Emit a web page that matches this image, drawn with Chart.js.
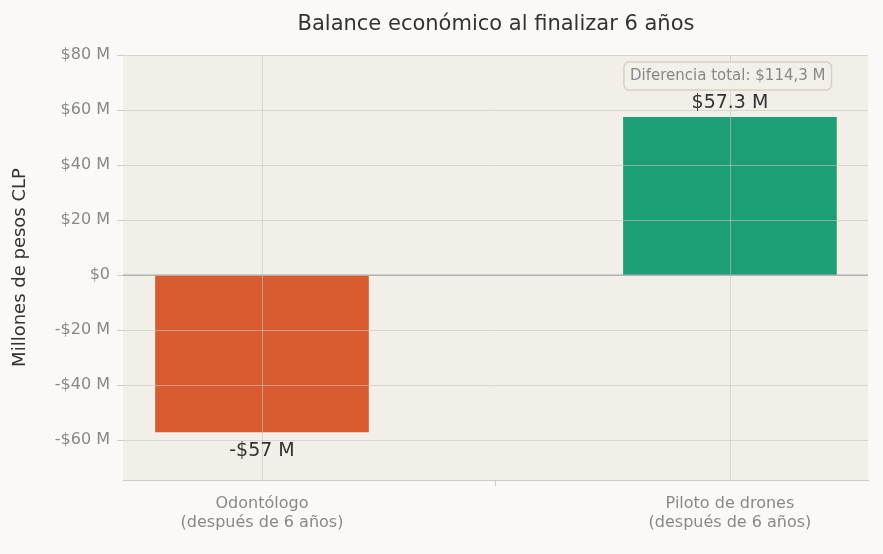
<!DOCTYPE html>
<html><head><meta charset="utf-8">
<script src="https://cdn.jsdelivr.net/npm/chart.js@4"></script>
<style>html,body{margin:0;background:#faf9f7}#wrap{width:883px;height:554px}</style>
</head><body><div id="wrap"><canvas id="c"></canvas></div>
<script>
const categories = [["Odontólogo","(después de 6 años)"],["Piloto de drones","(después de 6 años)"]];
const balances = [-57, 57.3];
const barLabels = ["-$57 M", "$57.3 M"];
const barColors = ["#d95b30", "#1c9e76"];
const yTicks = [-60, -40, -20, 0, 20, 40, 60, 80];
const chartTitle = "Balance económico al finalizar 6 años";
const noteText = "Diferencia total: $114,3 M";
const F = "DejaVu Sans";

const deco = {
  id: "deco",
  beforeDatasetsDraw(ch) {
    const {ctx, chartArea: a} = ch;
    ctx.save(); ctx.fillStyle = "#f2efe9";
    ctx.fillRect(a.left, a.top, a.right - a.left, a.bottom - a.top); ctx.restore();
  },
  afterDatasetsDraw(ch) {
    const {ctx, chartArea: a} = ch;
    const x = ch.scales.x, y = ch.scales.y;
    ctx.save();
    ctx.strokeStyle = "rgba(200,196,188,0.6)"; ctx.lineWidth = 1;
    yTicks.forEach(v => { const p = Math.round(y.getPixelForValue(v)) + 0.5;
      ctx.beginPath(); ctx.moveTo(a.left, p); ctx.lineTo(a.right, p); ctx.stroke(); });
    categories.forEach((c, i) => { const p = Math.round(x.getPixelForValue(i)) + 0.5;
      ctx.beginPath(); ctx.moveTo(p, a.top); ctx.lineTo(p, a.bottom); ctx.stroke(); });
    ctx.strokeStyle = "#aaa"; ctx.lineWidth = 1.2;
    ctx.beginPath(); ctx.moveTo(a.left, y.getPixelForValue(0)); ctx.lineTo(a.right, y.getPixelForValue(0)); ctx.stroke();
    ctx.restore();
  },
  afterDraw(ch) {
    const {ctx} = ch;
    ctx.save();
    ctx.fillStyle = "#333"; ctx.font = "21px " + F; ctx.textAlign = "center"; ctx.textBaseline = "middle";
    ctx.fillText(chartTitle, 496, 25);
    ctx.font = "19px " + F;
    ch.getDatasetMeta(0).data.forEach((b, i) => {
      const v = balances[i];
      ctx.textBaseline = v < 0 ? "top" : "bottom";
      ctx.fillText(barLabels[i], b.x, v < 0 ? b.y + 10 : b.y - 5);
    });
    ctx.font = "15px " + F;
    const w = ctx.measureText(noteText).width + 12;
    const bx = 624, by = 62;
    ctx.fillStyle = "rgba(242,239,233,0.9)"; ctx.strokeStyle = "#d6d1c6"; ctx.lineWidth = 1.5;
    ctx.beginPath(); ctx.roundRect(bx, by, w, 28, 5); ctx.fill(); ctx.stroke();
    ctx.fillStyle = "#888"; ctx.textAlign = "left"; ctx.textBaseline = "middle";
    ctx.fillText(noteText, bx + 6, by + 14);
    ctx.restore();
  }
};

new Chart(document.getElementById("c"), {
  type: "bar",
  data: { datasets: [{ data: balances.map((v, i) => ({ x: i, y: v })), backgroundColor: barColors, barThickness: 213 }] },
  options: {
    responsive: true, maintainAspectRatio: false, animation: false,
    layout: { padding: { top: 55, right: 15, left: 0, bottom: 0 } },
    plugins: { legend: { display: false }, tooltip: { enabled: false } },
    scales: {
      x: {
        type: "linear", min: -0.297, max: 1.295, offset: false,
        afterBuildTicks(s) { s.ticks = categories.map((c, i) => ({ value: i })); },
        grid: { display: true, drawOnChartArea: false, tickLength: 6, tickColor: "#ccc" },
        border: { color: "#ccc" },
        ticks: { color: "#888", font: { family: F, size: 16 }, padding: 8, callback: v => categories[v] },
        afterFit(s) { s.height = 74; }
      },
      y: {
        min: -74.5, max: 80,
        afterBuildTicks(s) { s.ticks = yTicks.map(v => ({ value: v })); },
        grid: { drawOnChartArea: false, tickLength: 6, tickColor: "#ccc" },
        border: { color: "#ccc" },
        ticks: { color: "#888", font: { family: F, size: 16 }, padding: 7,
          callback: v => v === 0 ? "$0" : (v < 0 ? "-$" + (-v) : "$" + v) + " M" },
        title: { display: true, text: "Millones de pesos CLP", color: "#333", font: { family: F, size: 18 }, padding: { top: 10, bottom: 2 } },
        afterFit(s) { s.width = 123; }
      }
    }
  },
  plugins: [deco]
});
</script></body></html>
